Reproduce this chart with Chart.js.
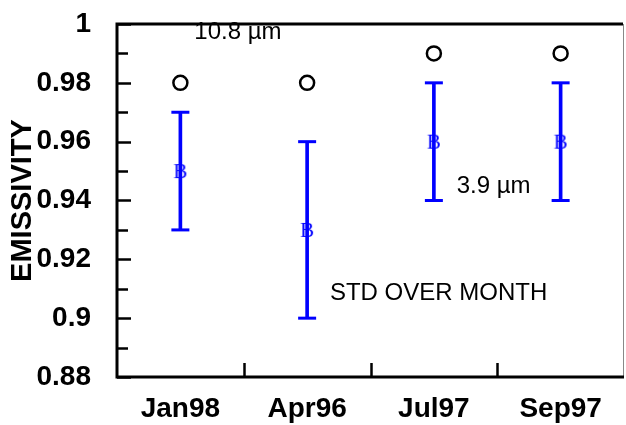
<!DOCTYPE html>
<html>
<head>
<meta charset="utf-8">
<script src="https://cdn.jsdelivr.net/npm/chart.js@4/dist/chart.umd.min.js"></script>
<style>
  html, body { margin: 0; padding: 0; background: #fff; }
  #wrap { width: 626px; height: 425px; }
</style>
</head>
<body>
<div id="wrap"><canvas id="chart" width="626" height="425"></canvas></div>
<script>
// data
var categories = ["Jan98", "Apr96", "Jul97", "Sep97"];
var emis108 = [0.98, 0.98, 0.99, 0.99];      // 10.8 um, open circles
var emis39 = [0.95, 0.93, 0.96, 0.96];       // 3.9 um, "B" markers
var emis39Low = [0.93, 0.90, 0.94, 0.94];    // std over month
var emis39High = [0.97, 0.96, 0.98, 0.98];
var yMin = 0.88, yMax = 1, yStep = 0.02;
var notes = [
    { text: "10.8 \u00b5m", x: 0.11, y: 0.9973 },
    { text: "3.9 \u00b5m", x: 2.18, y: 0.9447 },
    { text: "STD OVER MONTH", x: 1.18, y: 0.9085 }
];

var BLUE = "#0000ff";

// little canvas with a serif "B" for the marker
function letterMarker(ch) {
    var c = document.createElement("canvas");
    c.width = 22; c.height = 24;
    var g = c.getContext("2d");
    g.fillStyle = BLUE;
    g.font = "21px 'Liberation Serif', 'DejaVu Serif', serif";
    g.textAlign = "center";
    g.textBaseline = "middle";
    g.fillText(ch, 11, 13);
    return c;
}

// axes box, inward ticks and text notes
var frame = {
    id: "frame",
    afterDraw: function (chart) {
        var ctx = chart.ctx, a = chart.chartArea;
        var x = chart.scales.x, y = chart.scales.y;
        ctx.save();
        ctx.strokeStyle = "#000";
        ctx.lineWidth = 2.5;
        // y ticks, major every 0.02, minor in between
        for (var v = yMin; v <= yMax + 1e-9; v += yStep / 2) {
            var py = Math.round(y.getPixelForValue(v)) + 0.5;
            var major = Math.abs(Math.round(v / yStep) * yStep - v) < 1e-6;
            ctx.beginPath();
            ctx.moveTo(a.left, py);
            ctx.lineTo(a.left + (major ? 14 : 11), py);
            ctx.stroke();
        }
        // x ticks between categories
        for (var i = 1; i < categories.length; i++) {
            var px = Math.round(x.getPixelForValue(i - 0.5)) + 0.5;
            ctx.beginPath();
            ctx.moveTo(px, a.bottom);
            ctx.lineTo(px, a.bottom - 14);
            ctx.stroke();
        }
        // right side thin grey
        ctx.strokeStyle = "#888";
        ctx.lineWidth = 1;
        ctx.beginPath();
        ctx.moveTo(a.right - 0.5, a.top);
        ctx.lineTo(a.right - 0.5, a.bottom);
        ctx.stroke();
        // left, bottom, top
        ctx.strokeStyle = "#000";
        ctx.lineWidth = 3;
        ctx.beginPath();
        ctx.moveTo(a.right - 1, a.top);
        ctx.lineTo(a.left, a.top);
        ctx.lineTo(a.left, a.bottom);
        ctx.lineTo(a.right, a.bottom);
        ctx.stroke();
        // notes
        ctx.fillStyle = "#000";
        ctx.font = "24px 'Liberation Sans', Arial, sans-serif";
        ctx.textAlign = "left";
        ctx.textBaseline = "middle";
        notes.forEach(function (n) {
            ctx.fillText(n.text, x.getPixelForValue(n.x), y.getPixelForValue(n.y));
        });
        ctx.restore();
    }
};

var tickFont = { family: "'Liberation Sans', Arial, sans-serif", size: 28, weight: "bold" };
var titleFont = { family: "'Liberation Sans', Arial, sans-serif", size: 29, weight: "bold" };

new Chart(document.getElementById("chart"), {
    type: "bar",
    data: {
        labels: categories,
        datasets: [
            {
                label: "std",
                data: emis39Low.map(function (lo, i) { return [lo, emis39High[i]]; }),
                backgroundColor: BLUE,
                barThickness: 3,
                order: 4
            },
            {
                type: "line",
                label: "low",
                data: emis39Low,
                showLine: false,
                pointStyle: "line",
                pointRadius: 9,
                pointBorderWidth: 3,
                pointBorderColor: BLUE,
                order: 3
            },
            {
                type: "line",
                label: "high",
                data: emis39High,
                showLine: false,
                pointStyle: "line",
                pointRadius: 9,
                pointBorderWidth: 3,
                pointBorderColor: BLUE,
                order: 3
            },
            {
                type: "line",
                label: "3.9 um",
                data: emis39,
                showLine: false,
                pointStyle: letterMarker("B"),
                order: 2
            },
            {
                type: "line",
                label: "10.8 um",
                data: emis108,
                showLine: false,
                pointStyle: "circle",
                pointRadius: 7,
                pointBorderWidth: 2.5,
                pointBorderColor: "#000",
                pointBackgroundColor: "#fff",
                order: 1
            }
        ]
    },
    options: {
        responsive: false,
        animation: false,
        layout: { autoPadding: false, padding: { left: 0, right: 2, top: 24, bottom: 0 } },
        plugins: {
            legend: { display: false },
            tooltip: { enabled: false }
        },
        scales: {
            x: {
                offset: true,
                grid: { display: false },
                border: { display: false },
                ticks: { color: "#000", font: tickFont, padding: 7 },
                afterFit: function (s) {
                    s.height = 48;
                    s.paddingLeft = 0;
                    s.paddingRight = 0;
                }
            },
            y: {
                min: yMin,
                max: yMax,
                grid: { display: false },
                border: { display: false },
                ticks: {
                    stepSize: yStep,
                    color: "#000",
                    font: tickFont,
                    padding: 18,
                    callback: function (v) { return String(parseFloat(v.toFixed(2))); }
                },
                title: {
                    display: true,
                    text: "EMISSIVITY",
                    color: "#000",
                    font: titleFont,
                    padding: { top: 6, bottom: 0 }
                },
                afterFit: function (s) {
                    s.width = 117;
                    s.paddingTop = 0;
                    s.paddingBottom = 0;
                }
            }
        }
    },
    plugins: [frame]
});
</script>
</body>
</html>
